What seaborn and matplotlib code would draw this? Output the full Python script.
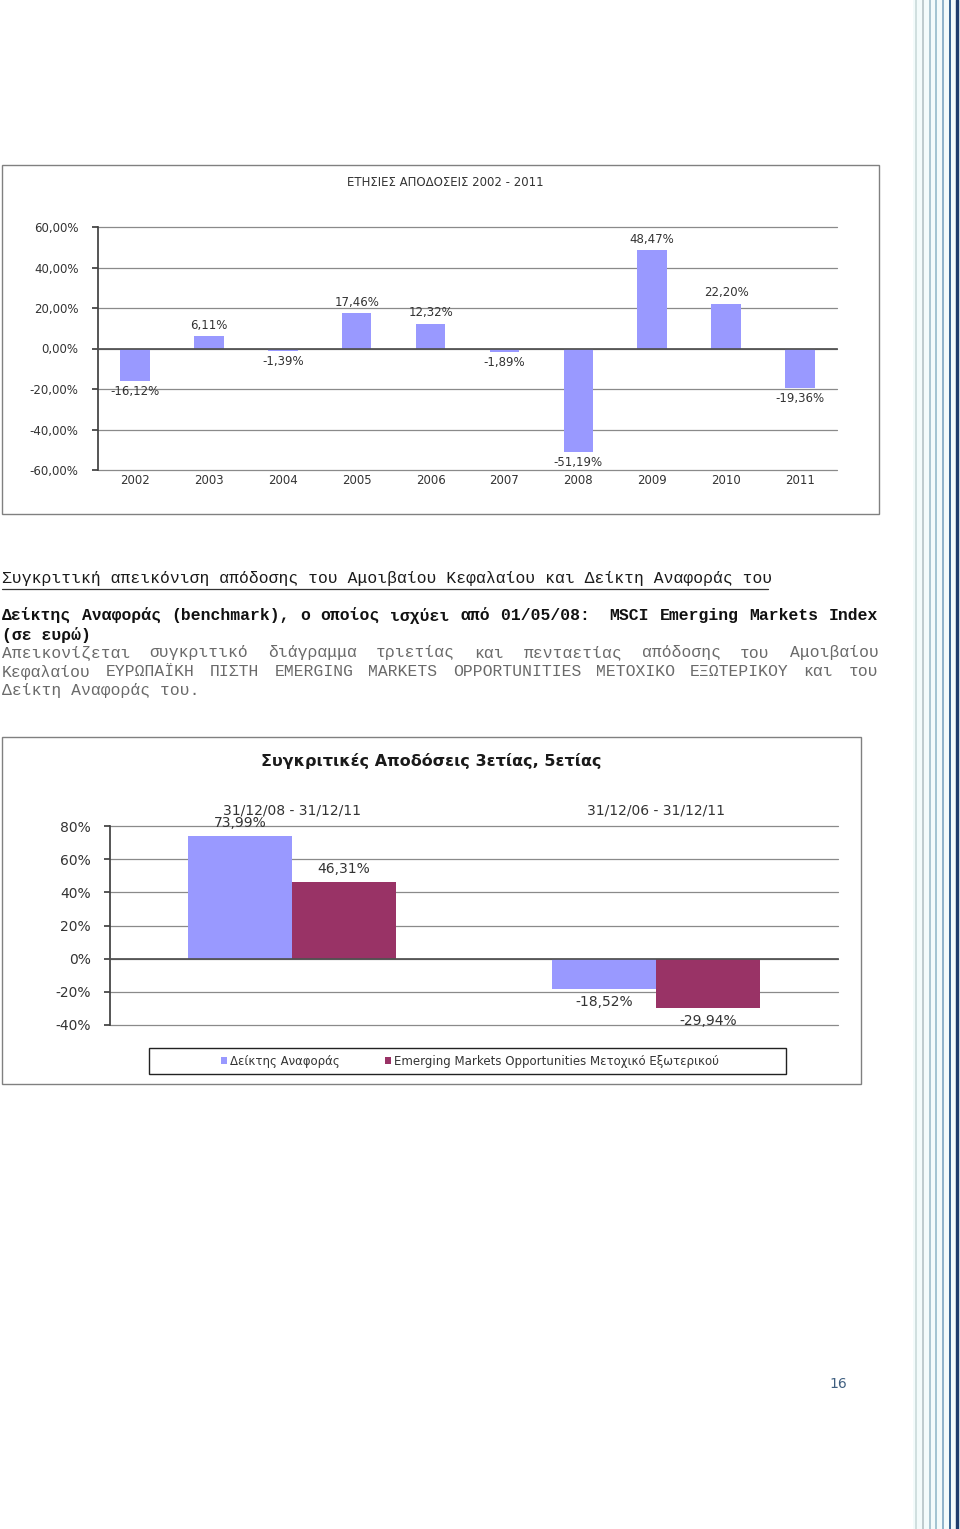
import numpy as np
import pandas as pd
import matplotlib
matplotlib.use("Agg")
import matplotlib.pyplot as plt
from matplotlib.patches import Rectangle, Patch
from matplotlib.lines import Line2D
import seaborn as sns

# ---------------- data ----------------
years = ["2002", "2003", "2004", "2005", "2006", "2007", "2008", "2009", "2010", "2011"]
annual_returns = [-16.12, 6.11, -1.39, 17.46, 12.32, -1.89, -51.19, 48.47, 22.20, -19.36]
annual_yticks = [-60, -40, -20, 0, 20, 40, 60]
chart1_title = "ΕΤΗΣΙΕΣ ΑΠΟΔΟΣΕΙΣ 2002 - 2011"

periods = ["31/12/08 - 31/12/11", "31/12/06 - 31/12/11"]
series_names = ["Δείκτης Αναφοράς", "Emerging Markets Opportunities Μετοχικό Εξωτερικού"]
benchmark_returns = [73.99, -18.52]
fund_returns = [46.31, -29.94]
comp_yticks = [-40, -20, 0, 20, 40, 60, 80]
chart2_title = "Συγκριτικές Αποδόσεις 3ετίας, 5ετίας"

heading = "Συγκριτική απεικόνιση απόδοσης του Αμοιβαίου Κεφαλαίου και Δείκτη Αναφοράς του"
bench_line = ["Δείκτης", "Αναφοράς", "(benchmark),", "ο", "οποίος", "ισχύει", "από",
              "01/05/08: ", "MSCI", "Emerging", "Markets", "Index"]
bench_line2 = "(σε ευρώ)"
para_lines = [
    ["Απεικονίζεται", "συγκριτικό", "διάγραμμα", "τριετίας", "και", "πενταετίας",
     "απόδοσης", "του", "Αμοιβαίου"],
    ["Κεφαλαίου", "ΕΥΡΩΠΑΪΚΗ", "ΠΙΣΤΗ", "EMERGING", "MARKETS", "OPPORTUNITIES",
     "ΜΕΤΟΧΙΚΟ", "ΕΞΩΤΕΡΙΚΟΥ", "και", "του"],
]
para_last = "Δείκτη Αναφοράς του."
page_number = "16"

BLUE = "#9999FF"
PLUM = "#993366"

# ---------------- figure ----------------
sns.set_theme(style="white")
plt.rcParams["font.family"] = ["DejaVu Sans"]

W, H = 960, 1529
fig = plt.figure(figsize=(W / 100, H / 100), dpi=100)
fig.patch.set_facecolor("white")


def fx(x):
    return x / W


def fy(y):
    return 1 - y / H


def pct2(v):
    return f"{v:.2f}".replace(".", ",") + "%"


# right-hand decorative border
fig.add_artist(Rectangle((fx(913), 0), fx(47), 1, transform=fig.transFigure,
                         facecolor="#f3fbfb", edgecolor="none", zorder=0))
for xpos, col, lw in [(915.5, "#cddcdc", 1.8), (922.5, "#b9c6ca", 1.8),
                      (929.5, "#a6c2ce", 1.8), (936.2, "#9cbfce", 1.8),
                      (942.8, "#86adc6", 1.8), (950.0, "#3d6a98", 2.0),
                      (957.0, "#1f3d6d", 3.4)]:
    fig.add_artist(Line2D([fx(xpos), fx(xpos)], [0, 1], transform=fig.transFigure,
                          color=col, lw=lw * 0.72))

# ---------------- chart 1 ----------------
fig.add_artist(Rectangle((fx(2), fy(514)), fx(877), (514 - 165) / H,
                         transform=fig.transFigure, fill=False,
                         edgecolor="#808080", lw=1.0))
fig.text(fx(445), fy(183), chart1_title, ha="center", va="center",
         fontsize=8.5, color="#333333")

ax1 = fig.add_axes([fx(98), fy(470), (837 - 98) / W, (470 - 227) / H])
df1 = pd.DataFrame({"year": years, "ret": annual_returns})
sns.barplot(data=df1, x="year", y="ret", color=BLUE, saturation=1, width=0.4,
            linewidth=0, ax=ax1, zorder=2)
ax1.set_xlim(-0.5, 9.5)
ax1.set_ylim(-60, 60)
ax1.set_yticks(annual_yticks)
ax1.set_yticklabels([f"{v},00%" for v in annual_yticks], fontsize=8.5, color="#333333")
ax1.yaxis.grid(True, color="#8a8a8a", lw=0.9)
for gl in ax1.get_ygridlines():
    gl.set_clip_on(False)
ax1.set_axisbelow(True)
ax1.set_xlabel("")
ax1.set_ylabel("")
for s in ["top", "right"]:
    ax1.spines[s].set_visible(False)
ax1.spines["left"].set_color("#404040")
ax1.spines["bottom"].set_position(("data", 0))
ax1.spines["bottom"].set_color("#505050")
ax1.set_xticks(np.arange(-0.5, 10, 1), minor=True)
ax1.tick_params(axis="x", which="major", length=0, labelbottom=False)
ax1.tick_params(axis="x", which="minor", length=4, direction="out", color="#404040")
ax1.tick_params(axis="y", length=4, direction="out", color="#404040", left=True, pad=10)
for i, yr in enumerate(years):
    ax1.text(i, -(481 - 470) / 243, yr, transform=ax1.get_xaxis_transform(),
             ha="center", va="center", fontsize=8.5, color="#333333")
ax1.bar_label(ax1.containers[0], labels=[pct2(v) for v in annual_returns],
              padding=3, fontsize=8.5, color="#333333")

# ---------------- text ----------------
MONO = ["Liberation Mono", "DejaVu Sans Mono"]
CW = 9.82  # px per character


def justify(words, y, x0, x1, **kw):
    nchar = sum(len(w) for w in words)
    gap = (x1 - x0 - nchar * CW) / (len(words) - 1)
    x = x0
    for w in words:
        fig.text(fx(x), fy(y), w, ha="left", va="center", family=MONO, **kw)
        x += len(w) * CW + gap


fig.text(fx(2), fy(579), heading, ha="left", va="center", family=MONO,
         fontsize=11.8, color="#1a1a1a")
fig.add_artist(Line2D([fx(2), fx(768)], [fy(588.5), fy(588.5)],
                      transform=fig.transFigure, color="#333333", lw=0.9))
justify(bench_line, 616, 2, 878, fontsize=11.8, weight="bold", color="#111111")
fig.text(fx(2), fy(635), bench_line2, ha="left", va="center", family=MONO,
         fontsize=11.8, weight="bold", color="#111111")
justify(para_lines[0], 653, 2, 878, fontsize=11.8, color="#6a6a6a")
justify(para_lines[1], 672, 2, 878, fontsize=11.8, color="#6a6a6a")
fig.text(fx(2), fy(691), para_last, ha="left", va="center", family=MONO,
         fontsize=11.8, color="#6a6a6a")

# ---------------- chart 2 ----------------
fig.add_artist(Rectangle((fx(2), fy(1084)), fx(859), (1084 - 737) / H,
                         transform=fig.transFigure, fill=False,
                         edgecolor="#808080", lw=1.0))
fig.text(fx(431), fy(761), chart2_title, ha="center", va="center",
         fontsize=11.5, weight="bold", color="#1a1a1a")

ax2 = fig.add_axes([fx(110), fy(1025), (838 - 110) / W, (1025 - 826) / H])
df2 = pd.DataFrame({
    "period": periods * 2,
    "series": [series_names[0]] * 2 + [series_names[1]] * 2,
    "value": benchmark_returns + fund_returns,
})
sns.barplot(data=df2, x="period", y="value", hue="series", hue_order=series_names,
            palette=[BLUE, PLUM], saturation=1, width=0.57, gap=0, linewidth=0,
            ax=ax2, legend=False, zorder=2)
ax2.set_xlim(-0.5, 1.5)
ax2.set_ylim(-40, 80)
ax2.set_yticks(comp_yticks)
ax2.set_yticklabels([f"{v}%" for v in comp_yticks], fontsize=10, color="#333333")
ax2.yaxis.grid(True, color="#8a8a8a", lw=0.9)
for gl in ax2.get_ygridlines():
    gl.set_clip_on(False)
ax2.set_axisbelow(True)
ax2.set_xlabel("")
ax2.set_ylabel("")
for s in ["top", "right"]:
    ax2.spines[s].set_visible(False)
ax2.spines["left"].set_color("#404040")
ax2.spines["bottom"].set_position(("data", 0))
ax2.spines["bottom"].set_color("#505050")
ax2.set_xticks([0.5, 1.5], minor=True)
ax2.tick_params(axis="x", which="major", length=0, labelbottom=False)
ax2.tick_params(axis="x", which="minor", length=3, direction="out", color="#404040")
ax2.tick_params(axis="y", length=4, direction="out", color="#404040", left=True, pad=10)
for i, p in enumerate(periods):
    ax2.text(i, 1 + (826 - 811) / 199, p, transform=ax2.get_xaxis_transform(),
             ha="center", va="center", fontsize=10, color="#333333")
for cont, vals in zip(ax2.containers, [benchmark_returns, fund_returns]):
    ax2.bar_label(cont, labels=[pct2(v) for v in vals], padding=4,
                  fontsize=10, color="#333333")

fig.add_artist(Rectangle((fx(149), fy(1074)), fx(637), (1074 - 1048) / H,
                         transform=fig.transFigure, fill=False,
                         edgecolor="#222222", lw=1.0))
handles = [Patch(facecolor=BLUE, edgecolor="none"), Patch(facecolor=PLUM, edgecolor="none")]
fig.legend(handles, series_names, loc="center", bbox_to_anchor=(fx(470), fy(1061)),
           ncol=2, frameon=False, fontsize=8.5, handlelength=0.55, handleheight=0.55,
           handletextpad=0.25, columnspacing=3.8, labelcolor="#333333")

# page number
fig.text(fx(838), fy(1384), page_number, ha="center", va="center",
         fontsize=10, color="#3f5f80")

fig.savefig("out.png", dpi=100, facecolor="white")
